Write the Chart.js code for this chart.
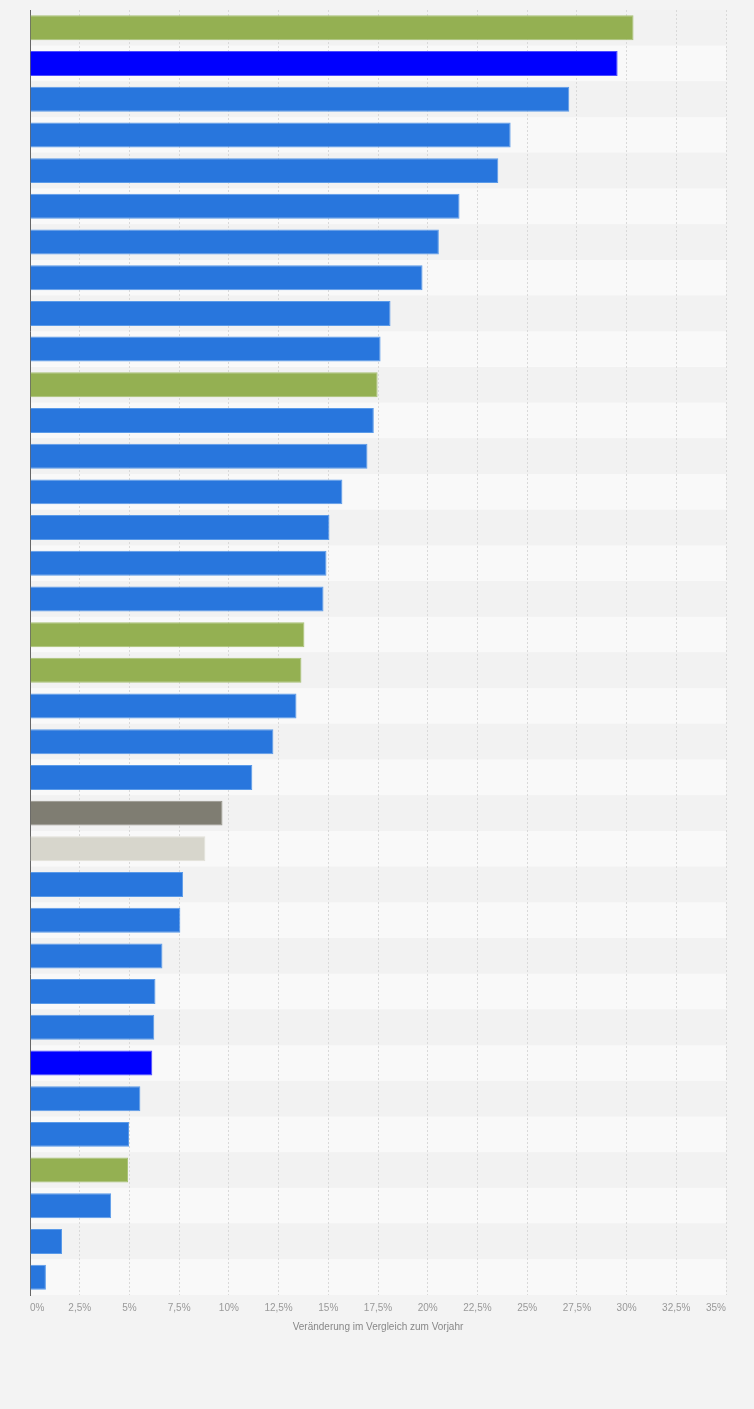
<!DOCTYPE html>
<html>
<head>
<meta charset="utf-8">
<script src="https://cdn.jsdelivr.net/npm/chart.js@4/dist/chart.umd.min.js"></script>
<style>
  html, body { margin: 0; padding: 0; background: #f3f3f3; }
  #wrap { position: relative; width: 754px; height: 1409px; }
</style>
</head>
<body>
<div id="wrap"><canvas id="c"></canvas></div>
<script>
// ---- data ----
const categories = Array.from({length: 36}, (_, i) => 'Kategorie ' + (i + 1));
const values = [
  30.35, 29.55, 27.12, 24.17, 23.55, 21.6, 20.56, 19.74, 18.13, 17.63,
  17.48, 17.29, 16.97, 15.71, 15.06, 14.91, 14.76, 13.8, 13.65, 13.4,
  12.24, 11.18, 9.68, 8.82, 7.7, 7.56, 6.66, 6.31, 6.25, 6.15,
  5.55, 4.98, 4.93, 4.08, 1.61, 0.8
];
// highlight group for each bar (0 normal, 1 green, 2 strong blue, 3 dark grey, 4 light grey)
const groups = [
  1, 2, 0, 0, 0, 0, 0, 0, 0, 0,
  1, 0, 0, 0, 0, 0, 0, 1, 1, 0,
  0, 0, 3, 4, 0, 0, 0, 0, 0, 2,
  0, 0, 1, 0, 0, 0
];
const axisMin = 0, axisMax = 35, axisStep = 2.5;
const axisTitle = 'Veränderung im Vergleich zum Vorjahr';

// ---- styles ----
const fillColors = ['#2876dd', '#94b052', '#0000ff', '#7f7d72', '#d7d6cc'];
const edgeColors = ['#5b9be9', '#a8c276', '#4d4dff', '#96948a', '#e2e1d9'];

const stripes = {
  id: 'stripes',
  beforeDraw(chart) {
    const {ctx, chartArea, scales} = chart;
    const y = scales.y;
    const half = Math.abs(y.getPixelForValue(1) - y.getPixelForValue(0)) / 2;
    ctx.save();
    categories.forEach((c, i) => {
      const center = y.getPixelForValue(i);
      ctx.fillStyle = (i % 2 === 0) ? '#f2f2f2' : '#f9f9f9';
      ctx.fillRect(chartArea.left, center - half, chartArea.right - chartArea.left, half * 2);
    });
    ctx.restore();
  }
};

new Chart(document.getElementById('c'), {
  type: 'bar',
  data: {
    labels: categories,
    datasets: [{
      data: values,
      backgroundColor: groups.map(g => fillColors[g]),
      borderColor: groups.map(g => edgeColors[g]),
      borderWidth: 1,
      borderSkipped: 'start',
      categoryPercentage: 1,
      barPercentage: 0.7
    }]
  },
  plugins: [stripes],
  options: {
    indexAxis: 'y',
    responsive: true,
    maintainAspectRatio: false,
    animation: false,
    layout: { padding: { left: 30, right: 28, top: 10, bottom: 76 } },
    plugins: { legend: { display: false }, tooltip: { enabled: false } },
    scales: {
      x: {
        min: axisMin, max: axisMax,
        grid: { color: '#d9d9d9', lineWidth: 1, drawTicks: false },
        border: { display: false, dash: [2, 2] },
        ticks: {
          stepSize: axisStep,
          align: 'inner',
          padding: 7,
          color: '#999999',
          font: { family: 'Liberation Sans, Arial, sans-serif', size: 10 },
          callback: v => String(v).replace('.', ',') + '%'
        },
        title: {
          display: true,
          text: axisTitle,
          color: '#888888',
          font: { family: 'Liberation Sans, Arial, sans-serif', size: 10 },
          padding: { top: 0, bottom: 0 }
        }
      },
      y: {
        grid: { display: false, drawTicks: false },
        border: { display: true, color: '#666666', width: 1 },
        ticks: { display: false }
      }
    }
  }
});
</script>
</body>
</html>
